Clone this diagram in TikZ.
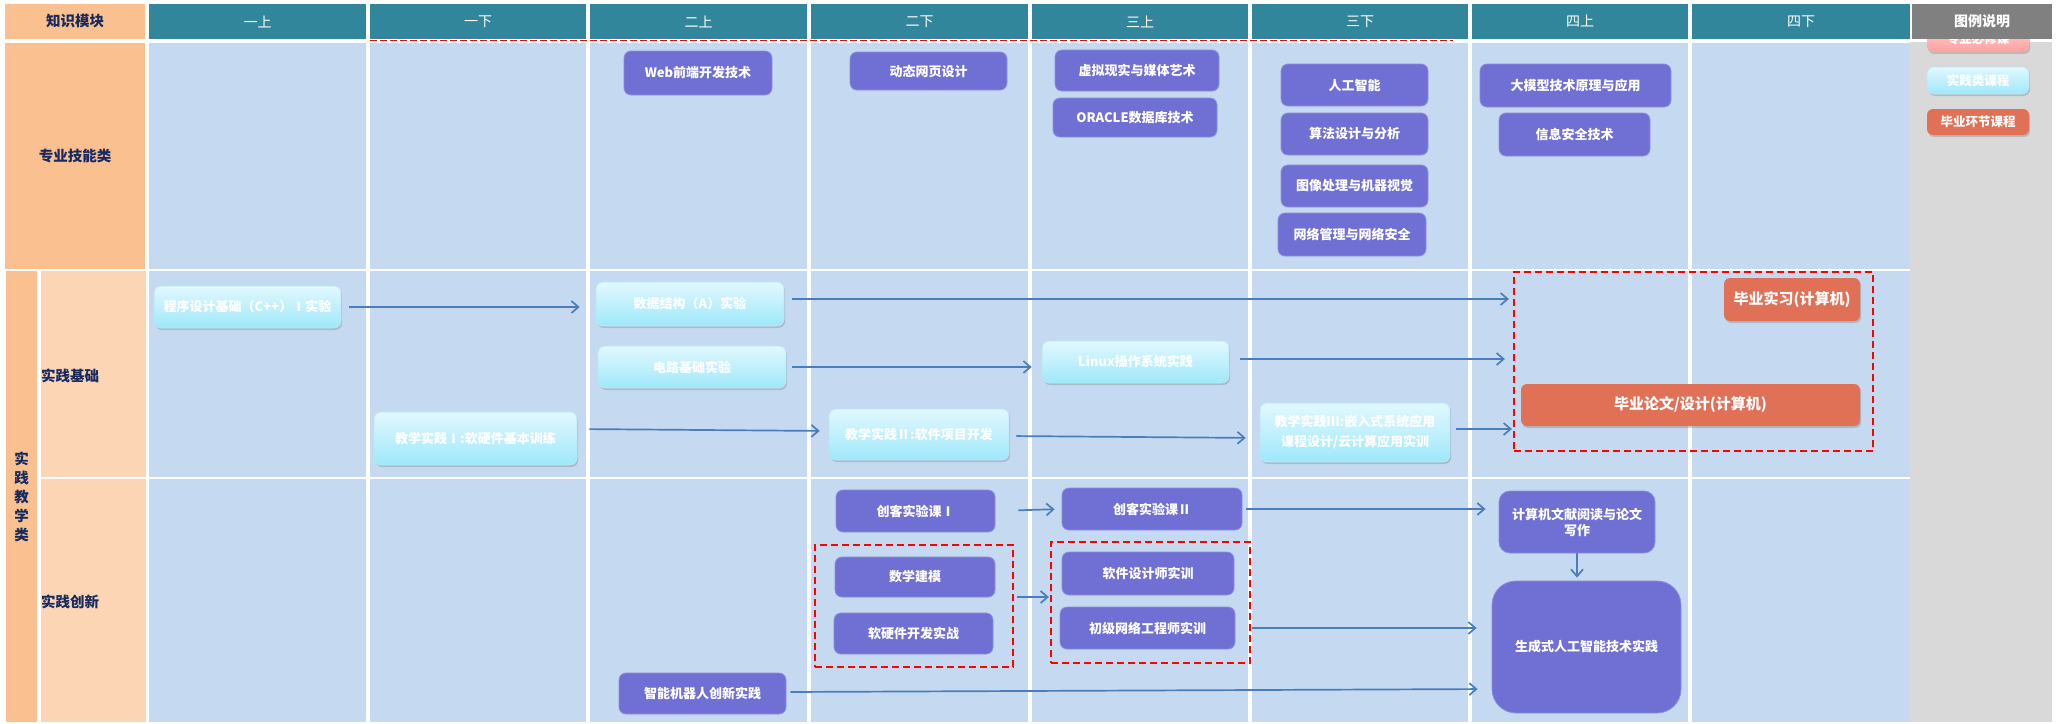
\documentclass[tikz,border=0pt]{standalone}
\usepackage{fontspec}
\setmainfont{Noto Sans CJK SC}
\usetikzlibrary{arrows.meta,shadows}
\definecolor{cellBlue}{RGB}{197,217,241}
\definecolor{hdrTeal}{RGB}{49,134,155}
\definecolor{lblOrange}{RGB}{250,192,144}
\definecolor{lblPeach}{RGB}{252,213,181}
\definecolor{lblNavy}{RGB}{22,42,95}
\definecolor{legGray}{RGB}{128,128,128}
\definecolor{legBody}{RGB}{217,217,217}
\definecolor{pFill}{RGB}{112,112,212}
\definecolor{pBorder}{RGB}{140,140,226}
\definecolor{cTop}{RGB}{226,248,254}
\definecolor{cBot}{RGB}{158,232,250}
\definecolor{cBorder}{RGB}{185,233,247}
\definecolor{oFill}{RGB}{224,113,87}
\definecolor{pkTop}{RGB}{255,205,205}
\definecolor{pkBot}{RGB}{255,160,160}
\definecolor{arrBlue}{RGB}{74,126,187}
\tikzset{
  nfont/.style={font=\bfseries\fontsize{13}{16}\selectfont},
  pbox/.style={draw=pBorder, line width=0.8pt, fill=pFill, rounded corners=7pt, inner sep=0pt, text=white, align=center, nfont},
  cbox/.style={draw=cBorder, line width=0.6pt, top color=cTop, bottom color=cBot, rounded corners=7pt, inner sep=0pt, text=white, align=center, nfont, drop shadow={shadow xshift=1.2pt, shadow yshift=-2pt, opacity=0.35}},
  obox/.style={fill=oFill, rounded corners=6pt, inner sep=0pt, text=white, align=center, font=\bfseries\fontsize{15}{18}\selectfont, drop shadow={shadow xshift=1.2pt, shadow yshift=-2pt, opacity=0.35}},
  pkbox/.style={top color=pkTop, bottom color=pkBot, rounded corners=6pt, inner sep=0pt, text=white, align=center, drop shadow={shadow xshift=1.2pt, shadow yshift=-2pt, opacity=0.35}},
  grp/.style={draw=red, line width=2.2pt, dash pattern=on 7pt off 4pt, inner sep=0pt},
  arr/.style={draw=arrBlue, line width=1.7pt, -{Straight Barb[length=7pt,width=12pt]}},
  hdrtext/.style={text=white, font=\fontsize{14}{17}\selectfont},
  lbltext/.style={text=lblNavy, font=\bfseries\fontsize{14.5}{19}\selectfont, inner sep=0pt},
  legfont/.style={font=\bfseries\fontsize{12.5}{15}\selectfont},
}
\begin{document}
\begin{tikzpicture}[x=1pt,y=-1pt]
\useasboundingbox (0,0) rectangle (2061,723);
\fill[white] (0,0) rectangle (2061,723);

% grid
\foreach \i/\a/\b/\t in {1/149/366/一上, 2/370/586/一下, 3/590/807/二上, 4/811/1028/二下, 5/1032/1248/三上, 6/1252/1468/三下, 7/1472/1688/四上, 8/1692/1910/四下} {
  \fill[hdrTeal] (\a,4) rectangle (\b,39);
  \node[hdrtext] (h\i) at ({(\a+\b)/2},21.5) {\t};
  \fill[cellBlue] (\a,43) rectangle (\b,269);
  \fill[cellBlue] (\a,271) rectangle (\b,477);
  \fill[cellBlue] (\a,479) rectangle (\b,722);
}

% label column
\node[fill=lblOrange, minimum width=140pt, minimum height=35pt, lbltext] (kmod) at (75,21.5) {知识模块};
\node[fill=lblOrange, minimum width=140pt, minimum height=226pt, lbltext] (zyjn) at (75,156) {专业技能类};
\node[fill=lblOrange, minimum width=31pt, minimum height=451pt, lbltext, align=center] (sjjx) at (21.5,496.5) {实\\践\\教\\学\\类};
\fill[lblPeach] (41,271) rectangle (146,477);
\fill[lblPeach] (41,479) rectangle (146,722);
\node[lbltext, anchor=west] (sjjc) at (41,376) {实践基础};
\node[lbltext, anchor=west] (sjcx) at (41,602) {实践创新};

% legend
\fill[legBody] (1910,42) rectangle (2052,722);
\node[pkbox, legfont, minimum width=102pt, minimum height=26pt] (lgPink) at (1978,39) {专业必修课};
\node[cbox, legfont, minimum width=102pt, minimum height=27pt] (lgPrac) at (1978,80.5) {实践类课程};
\node[obox, legfont, minimum width=102pt, minimum height=26pt] (lgGrad) at (1978,122) {毕业环节课程};
\node[fill=legGray, minimum width=140pt, minimum height=35pt, inner sep=0pt, text=white, font=\bfseries\fontsize{14}{17}\selectfont] (lgHead) at (1982,21.5) {图例说明};

% top dashed line
\draw[red, line width=1.4pt, dash pattern=on 7pt off 3pt] (370,40.7) -- (1453,40.7);

% row 1
\node[pbox, minimum width=148pt, minimum height=44pt] (web) at (698,73) {Web前端开发技术};
\node[pbox, minimum width=157pt, minimum height=38pt] (dtwy) at (928.5,71) {动态网页设计};
\node[pbox, minimum width=164pt, minimum height=41pt] (vr) at (1137,70.5) {虚拟现实与媒体艺术};
\node[pbox, minimum width=164pt, minimum height=39pt] (oracle) at (1135,117.5) {ORACLE数据库技术};
\node[pbox, minimum width=147pt, minimum height=42pt] (ai) at (1354.5,85) {人工智能};
\node[pbox, minimum width=147pt, minimum height=42pt] (algo) at (1354.5,134) {算法设计与分析};
\node[pbox, minimum width=147pt, minimum height=42pt] (img) at (1354.5,186) {图像处理与机器视觉};
\node[pbox, minimum width=148pt, minimum height=43pt] (net) at (1352,234.5) {网络管理与网络安全};
\node[pbox, minimum width=191pt, minimum height=43pt] (llm) at (1575.5,85.5) {大模型技术原理与应用};
\node[pbox, minimum width=151pt, minimum height=43pt] (sec) at (1574.5,134.5) {信息安全技术};

% row 2
\node[cbox, minimum width=187pt, minimum height=42pt] (prog) at (247.5,307) {程序设计基础（C++）Ⅰ实验};
\node[cbox, minimum width=188pt, minimum height=44pt] (dsA) at (690,304) {数据结构（A）实验};
\node[cbox, minimum width=188pt, minimum height=42pt] (circ) at (692,367) {电路基础实验};
\node[cbox, minimum width=203pt, minimum height=53pt] (jx1) at (475.5,438.5) {教学实践Ⅰ:软硬件基本训练};
\node[cbox, minimum width=180pt, minimum height=51pt] (jx2) at (919,434.5) {教学实践Ⅱ:软件项目开发};
\node[cbox, minimum width=187pt, minimum height=42pt] (linux) at (1135.5,362) {Linux操作系统实践};
\node[cbox, minimum width=190pt, minimum height=59pt, font=\bfseries\fontsize{13}{20}\selectfont] (jx3) at (1355,432.5) {教学实践Ⅲ:嵌入式系统应用\\课程设计/云计算应用实训};
\node[grp, minimum width=359pt, minimum height=179pt] (redA) at (1693.5,361.5) {};
\node[obox, minimum width=136pt, minimum height=43pt] (intern) at (1792,299.5) {毕业实习(计算机)};
\node[obox, minimum width=339pt, minimum height=42pt] (thesis) at (1690.5,405) {毕业论文/设计(计算机)};

% row 3
\node[pbox, minimum width=159pt, minimum height=42pt] (ck1) at (915.5,511) {创客实验课Ⅰ};
\node[pbox, minimum width=180pt, minimum height=42pt] (ck2) at (1152,509) {创客实验课Ⅱ};
\node[grp, minimum width=198pt, minimum height=122pt] (boxA) at (914,606) {};
\node[pbox, minimum width=160pt, minimum height=40pt] (math) at (915,577) {数学建模};
\node[pbox, minimum width=159pt, minimum height=41pt] (rydev) at (913.5,633.5) {软硬件开发实战};
\node[grp, minimum width=199pt, minimum height=121pt] (boxB) at (1150.5,602.5) {};
\node[pbox, minimum width=172pt, minimum height=43pt] (sdt) at (1148,573.5) {软件设计师实训};
\node[pbox, minimum width=175pt, minimum height=42pt] (net2) at (1147.5,628) {初级网络工程师实训};
\node[pbox, minimum width=167pt, minimum height=41pt] (robot) at (702.5,693.5) {智能机器人创新实践};
\node[pbox, minimum width=156pt, minimum height=62pt, rounded corners=11pt] (lit) at (1577,522) {计算机文献阅读与论文\\写作};
\node[pbox, minimum width=189pt, minimum height=132pt, rounded corners=24pt] (gen) at (1586.5,647) {生成式人工智能技术实践};

% arrows row 2
\draw[arr, shorten <=8pt, shorten >=16pt] (prog.east) -- (dsA.west |- prog.east);
\path ([yshift=5pt]dsA.east) coordinate (dsOut);
\draw[arr, shorten <=8pt, shorten >=4pt] (dsOut) -- (redA.west |- dsOut);
\draw[arr, shorten <=6pt, shorten >=10pt] (circ.east) -- (linux.west |- circ.east);
\path ([yshift=3pt]linux.east) coordinate (lxOut);
\draw[arr, shorten <=11pt, shorten >=8pt] (lxOut) -- (redA.west |- lxOut);
\draw[arr, shorten <=12pt, shorten >=9pt] ([yshift=9.5pt]jx1.east) -- ([yshift=3.5pt]jx2.west);
\draw[arr, shorten <=7pt, shorten >=14pt] ([yshift=-1.5pt]jx2.east) -- ([yshift=-5.5pt]jx3.west);
\path ([yshift=3.5pt]jx3.east) coordinate (j3Out);
\draw[arr, shorten <=6pt, shorten >=1pt] (j3Out) -- (redA.west |- j3Out);

% arrows row 3
\draw[arr, shorten <=23pt, shorten >=7pt] (ck1.east) -- (ck2.west);
\path ([yshift=9pt]boxA.east) coordinate (aOut);
\draw[arr, shorten <=3pt, shorten >=1pt] (aOut) -- (boxB.west |- aOut);
\draw[arr, shorten <=4pt, shorten >=13pt] (ck2.east) -- (lit.west |- ck2.east);
\draw[arr, shorten <=17pt, shorten >=15pt] (net2.east) -- (gen.west |- net2.east);
\draw[arr, shorten <=4pt, shorten >=14pt] ([yshift=1.5pt]robot.east) -- ([yshift=-42pt]gen.west);
\draw[arr, shorten >=3pt] (lit.south) -- (gen.north -| lit.south);
\end{tikzpicture}
\end{document}
